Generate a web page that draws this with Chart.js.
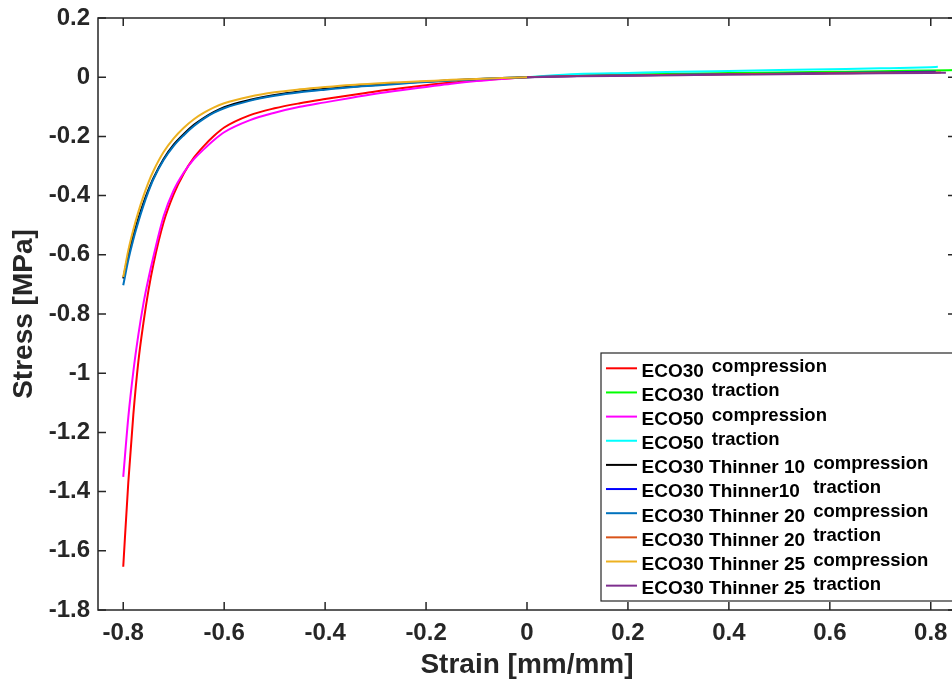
<!DOCTYPE html>
<html>
<head>
<meta charset="utf-8">
<script src="https://cdn.jsdelivr.net/npm/chart.js@4.4.0/dist/chart.umd.min.js"></script>
<style>
    html, body { margin: 0; padding: 0; background: #fff; overflow: hidden; }
    #wrap { width: 952px; height: 683px; overflow: hidden; }
</style>
</head>
<body>
<div id="wrap"><canvas id="stressChart" width="958" height="683" style="width:958px;height:683px"></canvas></div>
<script>
// compression branch, strain [mm/mm]
const strainComp = [-0.8, -0.79, -0.78, -0.77, -0.76, -0.75, -0.74, -0.72, -0.70, -0.68, -0.66, -0.64, -0.62,
    -0.60, -0.55, -0.50, -0.45, -0.40, -0.35, -0.30, -0.25, -0.20, -0.15, -0.10, -0.05, 0];
const eco30Comp = [-1.654, -1.37, -1.14, -0.96, -0.83, -0.72, -0.63, -0.49, -0.395, -0.325, -0.272, -0.232, -0.198,
    -0.17, -0.129, -0.105, -0.088, -0.074, -0.061, -0.048, -0.037, -0.027, -0.018, -0.011, -0.005, 0];
const eco50Comp = [-1.35, -1.15, -0.995, -0.87, -0.765, -0.68, -0.605, -0.47, -0.382, -0.322, -0.277, -0.243, -0.212,
    -0.186, -0.146, -0.12, -0.10, -0.085, -0.07, -0.056, -0.044, -0.033, -0.022, -0.013, -0.006, 0];
const thin10Comp = [-0.68, -0.60, -0.535, -0.477, -0.425, -0.38, -0.34, -0.276, -0.228, -0.192, -0.161, -0.137, -0.117,
    -0.101, -0.077, -0.06, -0.048, -0.039, -0.032, -0.026, -0.02, -0.015, -0.01, -0.006, -0.003, 0];
const thin20Comp = [-0.703, -0.618, -0.548, -0.488, -0.434, -0.386, -0.344, -0.28, -0.232, -0.196, -0.165, -0.14, -0.12,
    -0.105, -0.08, -0.063, -0.051, -0.042, -0.034, -0.028, -0.022, -0.016, -0.011, -0.007, -0.003, 0];
const thin25Comp = [-0.675, -0.585, -0.515, -0.455, -0.402, -0.355, -0.316, -0.253, -0.207, -0.171, -0.142, -0.12, -0.102,
    -0.088, -0.066, -0.051, -0.041, -0.033, -0.026, -0.021, -0.017, -0.013, -0.009, -0.006, -0.003, 0];

// traction branch: common strain grid, last point differs per test
const strainTrac = [0, 0.1, 0.2, 0.3, 0.4, 0.5, 0.6, 0.7, 0.8];
const tracEnd = [0.85, 0.814, 0.81, 0.82, 0.83];
const eco30Trac = [0, 0.006, 0.009, 0.012, 0.014, 0.016, 0.018, 0.020, 0.023, 0.024];
const eco50Trac = [0, 0.011, 0.0145, 0.018, 0.021, 0.024, 0.027, 0.030, 0.034, 0.035];
const thin10Trac = [0, 0.004, 0.006, 0.008, 0.010, 0.012, 0.014, 0.016, 0.018, 0.018];
const thin20Trac = [0, 0.004, 0.006, 0.008, 0.010, 0.011, 0.013, 0.015, 0.016, 0.016];
const thin25Trac = [0, 0.003, 0.005, 0.007, 0.009, 0.010, 0.012, 0.013, 0.0145, 0.015];

const xTickVals = [-0.8, -0.6, -0.4, -0.2, 0, 0.2, 0.4, 0.6, 0.8];
const yTickVals = [-1.8, -1.6, -1.4, -1.2, -1, -0.8, -0.6, -0.4, -0.2, 0, 0.2];

const seriesNames = ['ECO30', 'ECO30', 'ECO50', 'ECO50', 'ECO30 Thinner 10', 'ECO30 Thinner10 ',
    'ECO30 Thinner 20', 'ECO30 Thinner 20', 'ECO30 Thinner 25', 'ECO30 Thinner 25'];
const seriesModes = ['compression', 'traction', 'compression', 'traction', 'compression', 'traction',
    'compression', 'traction', 'compression', 'traction'];
const seriesColors = ['#ff0000', '#00ff00', '#ff00ff', '#00ffff', '#000000', '#0000ff',
    '#0072bd', '#d95319', '#edb120', '#7e2f8e'];

const AXIS_COLOR = '#262626';
const FONT = '"Liberation Sans", Arial, Helvetica, sans-serif';

function compPoints(values) {
    return strainComp.map((x, i) => ({ x: x, y: values[i] }));
}

function tracPoints(values, endStrain) {
    const xs = strainTrac.concat([endStrain]);
    return xs.map((x, i) => ({ x: x, y: values[i] }));
}

const seriesData = [
    compPoints(eco30Comp), tracPoints(eco30Trac, tracEnd[0]),
    compPoints(eco50Comp), tracPoints(eco50Trac, tracEnd[1]),
    compPoints(thin10Comp), tracPoints(thin10Trac, tracEnd[2]),
    compPoints(thin20Comp), tracPoints(thin20Trac, tracEnd[3]),
    compPoints(thin25Comp), tracPoints(thin25Trac, tracEnd[4])
];

function fmtTick(v) {
    if (Math.abs(v) < 1e-9) return '0';
    if (Math.abs(Math.abs(v) - 1) < 1e-9) return v < 0 ? '-1' : '1';
    return v.toFixed(1);
}

// box around the plot with inward ticks, MATLAB style
const framePlugin = {
    id: 'frame',
    afterDatasetsDraw(chart) {
        const { ctx, chartArea: a, scales } = chart;
        ctx.save();
        ctx.strokeStyle = AXIS_COLOR;
        ctx.lineWidth = 1.5;
        ctx.strokeRect(a.left, a.top, a.right - a.left, a.bottom - a.top);
        ctx.beginPath();
        xTickVals.forEach(v => {
            const px = scales.x.getPixelForValue(v);
            ctx.moveTo(px, a.bottom); ctx.lineTo(px, a.bottom - 8);
            ctx.moveTo(px, a.top); ctx.lineTo(px, a.top + 8);
        });
        yTickVals.forEach(v => {
            const py = scales.y.getPixelForValue(v);
            ctx.moveTo(a.left, py); ctx.lineTo(a.left + 8, py);
            ctx.moveTo(a.right, py); ctx.lineTo(a.right - 8, py);
        });
        ctx.stroke();
        ctx.restore();
    }
};

const legendPlugin = {
    id: 'boxLegend',
    afterDraw(chart) {
        const ctx = chart.ctx;
        const boxX = 601, boxY = 353, boxBottom = 601;
        const rowY0 = 368.3, rowStep = 24.15;
        ctx.save();
        ctx.fillStyle = '#ffffff';
        ctx.fillRect(boxX, boxY, chart.width - boxX + 10, boxBottom - boxY);
        ctx.strokeStyle = AXIS_COLOR;
        ctx.lineWidth = 1.2;
        ctx.strokeRect(boxX, boxY, chart.width - boxX + 10, boxBottom - boxY);

        seriesNames.forEach((name, i) => {
            const y = rowY0 + i * rowStep;
            ctx.strokeStyle = seriesColors[i];
            ctx.lineWidth = 2;
            ctx.beginPath();
            ctx.moveTo(606, y);
            ctx.lineTo(637, y);
            ctx.stroke();

            ctx.fillStyle = '#000000';
            ctx.textAlign = 'left';
            ctx.textBaseline = 'alphabetic';
            ctx.font = 'bold 19px ' + FONT;
            ctx.fillText(name, 641.5, y + 8.4);
            const w = ctx.measureText(name).width;
            ctx.font = 'bold 18.5px ' + FONT;
            ctx.fillText(seriesModes[i], 641.5 + w + 8, y + 4);
        });
        ctx.restore();
    }
};

const datasets = seriesData.map((pts, i) => ({
    label: seriesNames[i] + ' ' + seriesModes[i],
    data: pts,
    borderColor: seriesColors[i],
    backgroundColor: seriesColors[i],
    borderWidth: 2,
    pointRadius: 0,
    fill: false,
    cubicInterpolationMode: 'monotone',
    order: seriesData.length - i
}));

const ctx = document.getElementById('stressChart').getContext('2d');
const stressChart = new Chart(ctx, {
    type: 'line',
    data: { datasets: datasets },
    options: {
        responsive: false,
        devicePixelRatio: 1,
        animation: false,
        layout: { padding: { top: 18, right: 2, left: 0, bottom: 0 } },
        plugins: {
            legend: { display: false },
            tooltip: { enabled: false }
        },
        scales: {
            x: {
                type: 'linear',
                min: -0.85,
                max: 0.85,
                afterBuildTicks: axis => { axis.ticks = xTickVals.map(v => ({ value: v })); },
                afterFit: axis => { axis.height = 73; axis.paddingLeft = 0; axis.paddingRight = 0; },
                grid: { display: false, drawTicks: false },
                border: { display: false },
                ticks: {
                    padding: 9,
                    color: AXIS_COLOR,
                    autoSkip: false,
                    maxRotation: 0,
                    font: { family: FONT, size: 24, weight: 'bold' },
                    callback: v => fmtTick(v)
                },
                title: {
                    display: true,
                    text: 'Strain [mm/mm]',
                    color: AXIS_COLOR,
                    padding: { top: 1, bottom: 1 },
                    font: { family: FONT, size: 28, weight: 'bold' }
                }
            },
            y: {
                type: 'linear',
                min: -1.8,
                max: 0.2,
                afterBuildTicks: axis => { axis.ticks = yTickVals.map(v => ({ value: v })); },
                afterFit: axis => { axis.width = 98; axis.paddingTop = 0; axis.paddingBottom = 0; },
                grid: { display: false, drawTicks: false },
                border: { display: false },
                ticks: {
                    padding: 8,
                    color: AXIS_COLOR,
                    autoSkip: false,
                    font: { family: FONT, size: 24, weight: 'bold' },
                    callback: v => fmtTick(v)
                },
                title: {
                    display: true,
                    text: 'Stress [MPa]',
                    color: AXIS_COLOR,
                    padding: { top: 7, bottom: 7 },
                    font: { family: FONT, size: 28, weight: 'bold' }
                }
            }
        }
    },
    plugins: [framePlugin, legendPlugin]
});
</script>
</body>
</html>
